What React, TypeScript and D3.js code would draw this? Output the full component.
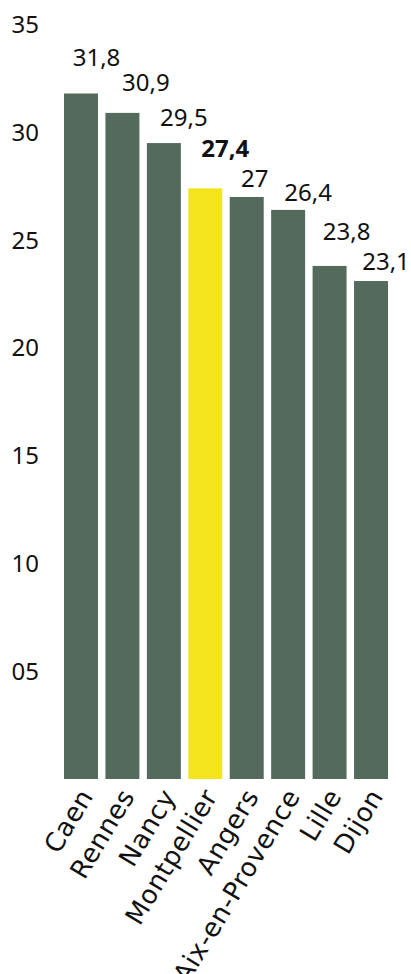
import React from "react";
import * as d3 from "d3";

// Cities and their values
const cities = ["Caen", "Rennes", "Nancy", "Montpellier", "Angers", "Aix-en-Provence", "Lille", "Dijon"];
const values = [31.8, 30.9, 29.5, 27.4, 27, 26.4, 23.8, 23.1];
const valueLabels = ["31,8", "30,9", "29,5", "27,4", "27", "26,4", "23,8", "23,1"];
const highlighted = "Montpellier";

// Y-axis tick values and their labels
const tickValues = [5, 10, 15, 20, 25, 30, 35];
const tickLabels = ["05", "10", "15", "20", "25", "30", "35"];

// Hand-placed label offsets (label centre vs. bar centre, baseline above bar top)
const labelDx = [15.5, 23.5, 20, 20, 8, 20, 17, 15];
const labelDy = [27, 22, 17, 31, 10, 9, 26, 11];

const W = 411;
const H = 974;
const FONT = "'Noto Sans', sans-serif";
const LABEL_FONT = "'DejaVu Sans', sans-serif";
const BAR = "#546a5c";
const HIGHLIGHT = "#f4e41e";

export default function App() {
  const x = d3.scaleBand<string>().domain(cities).range([64, 388]).paddingInner(0.18).paddingOuter(0);
  const y = d3.scaleLinear().domain([0, 35]).range([779, 24.5]);

  return (
    <svg
      width={W}
      height={H}
      style={{ position: "absolute", left: 0, top: 0, background: "#fff" }}
      fontFamily={FONT}
    >
      {/* y-axis tick labels */}
      {tickValues.map((t, i) => (
        <text key={t} x={39} y={y(t)} dy="0.36em" textAnchor="end" fontSize={24} fill="#111">
          {tickLabels[i]}
        </text>
      ))}

      {/* bars */}
      {cities.map((c, i) => (
        <rect
          key={c}
          x={x(c)}
          y={y(values[i])}
          width={x.bandwidth()}
          height={y(0) - y(values[i])}
          fill={c === highlighted ? HIGHLIGHT : BAR}
        />
      ))}

      {/* value labels */}
      {cities.map((c, i) => (
        <text
          key={c}
          x={(x(c) as number) + x.bandwidth() / 2 + labelDx[i]}
          y={y(values[i]) - labelDy[i]}
          textAnchor="middle"
          fontSize={24}
          fontWeight={c === highlighted ? 700 : 400}
          fill="#111"
        >
          {valueLabels[i]}
        </text>
      ))}

      {/* rotated city labels */}
      {cities.map((c) => {
        const cx = (x(c) as number) + x.bandwidth() / 2;
        return (
          <text
            key={c}
            transform={`translate(${cx + 13},${796}) rotate(-59)`}
            textAnchor="end"
            fontFamily={LABEL_FONT}
            fontSize={26}
            letterSpacing={0.6}
            fill="#111"
          >
            {c}
          </text>
        );
      })}
    </svg>
  );
}
